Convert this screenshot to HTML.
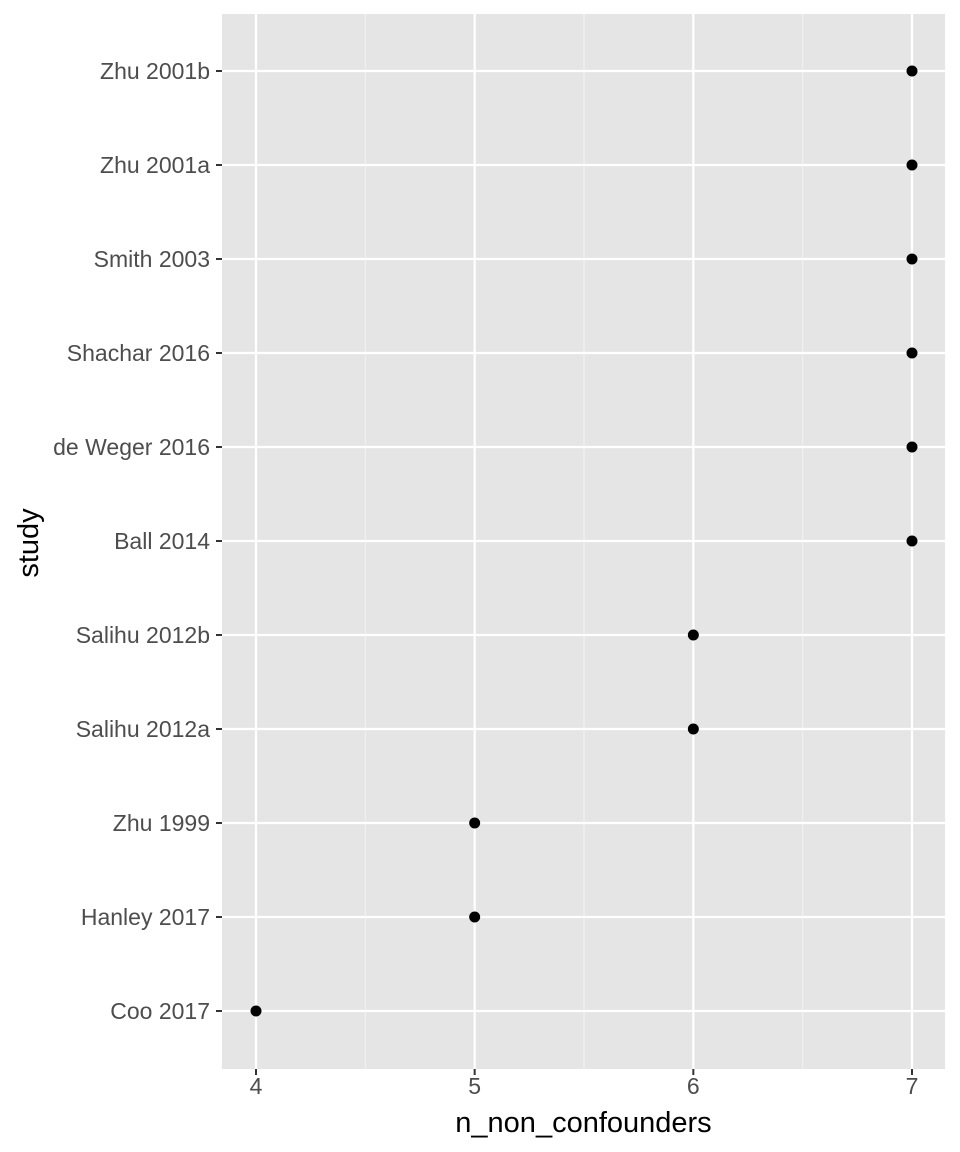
<!DOCTYPE html>
<html><head><meta charset="utf-8"><style>
html,body{margin:0;padding:0;background:#fff;}
svg{display:block;font-family:"Liberation Sans",Arial,sans-serif;}
</style></head><body>
<svg id="chart" width="960" height="1152" viewBox="0 0 960 1152"></svg>
<script>
const categories = ["Coo 2017","Hanley 2017","Zhu 1999","Salihu 2012a","Salihu 2012b","Ball 2014","de Weger 2016","Shachar 2016","Smith 2003","Zhu 2001a","Zhu 2001b"];
const values = [4,5,5,6,6,7,7,7,7,7,7];
const xTicks = [4,5,6,7];
const xMinor = [4.5,5.5,6.5];

const NS="http://www.w3.org/2000/svg";
const svg=document.getElementById('chart');
const P={l:222,r:945,t:14,b:1069};
const x0=4, x1=7, px0=256, px1=912;
function xs(v){return px0+(v-x0)*(px1-px0)/(x1-x0);}
function ys(i){const top=71,bot=1011;return bot-i*(bot-top)/(categories.length-1);}
function mk(tag,attrs,parent){const e=document.createElementNS(NS,tag);for(const k in attrs)e.setAttribute(k,attrs[k]);(parent||svg).appendChild(e);return e;}

const panel=mk('rect',{x:P.l,y:P.t,width:P.r-P.l,height:P.b-P.t,fill:'#e5e5e5'});



xMinor.forEach(v=>{
  const l=mk('line',{x1:xs(v),x2:xs(v),y1:P.t,y2:P.b,stroke:'#f2f2f2','stroke-width':1.1});
  
  
});
xTicks.forEach(v=>{
  const l=mk('line',{x1:xs(v),x2:xs(v),y1:P.t,y2:P.b,stroke:'#fff','stroke-width':2.2});
  
  
  const t=mk('line',{x1:xs(v),x2:xs(v),y1:P.b,y2:P.b+6,stroke:'#333','stroke-width':2});
  
  
  const tx=mk('text',{x:xs(v),y:P.b+25,'text-anchor':'middle','font-size':23,fill:'#4d4d4d'});
  tx.textContent=v;
  
  
});
categories.forEach((c,i)=>{
  const y=ys(i);
  const l=mk('line',{x1:P.l,x2:P.r,y1:y,y2:y,stroke:'#fff','stroke-width':2.2});
  
  
  const t=mk('line',{x1:P.l-6,x2:P.l,y1:y,y2:y,stroke:'#333','stroke-width':2});
  
  
  const tx=mk('text',{x:P.l-12,y:y+8,'text-anchor':'end','font-size':23,fill:'#4d4d4d'});
  tx.textContent=c;
  
  
});
values.forEach((v,i)=>{
  const d=mk('circle',{cx:xs(v),cy:ys(i),r:5.5,fill:'#000'});
  
  
});
const xt=mk('text',{x:(P.l+P.r)/2,y:1132,'text-anchor':'middle','font-size':29,fill:'#000'});
xt.textContent='n_non_confounders';


const yt=mk('text',{x:0,y:0,'text-anchor':'middle','font-size':29,fill:'#000',transform:'translate(38,543) rotate(-90)'});
yt.textContent='study';


</script>
</body></html>
